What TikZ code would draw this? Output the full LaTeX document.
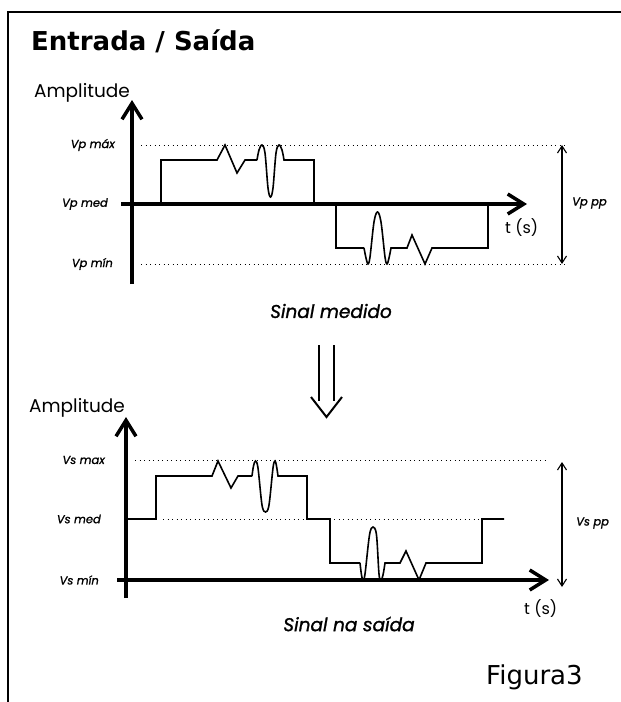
\documentclass[tikz,border=0pt]{standalone}
\usepackage{fontspec}
\setmainfont{DejaVu Sans}
\newfontfamily\geo{Poppins}
\newfontfamily\geob[FakeBold=1.2]{Poppins}
\usetikzlibrary{arrows.meta}
\tikzset{
  axis/.style={line width=3.5pt,-{Straight Barb[length=16pt,width=20pt]}},
  sig/.style={line width=1.6pt,line join=miter},
  dots/.style={line width=1pt,dash pattern=on 1pt off 3.5pt},
  span/.style={line width=1.1pt,{Straight Barb[length=7pt,width=9pt]}-{Straight Barb[length=7pt,width=9pt]}},
  lbl/.style={inner sep=0pt,font=\geob\itshape\fontsize{11.5}{12}\selectfont},
  captext/.style={inner sep=0pt,font=\geob\itshape\fontsize{18.5}{20}\selectfont},
  amp/.style={inner sep=0pt,anchor=west,font=\geo\fontsize{18.5}{20}\selectfont},
  tsec/.style={inner sep=0pt,anchor=west,font=\geo\fontsize{16}{18}\selectfont},
}
\begin{document}
\begin{tikzpicture}[x=1pt,y=-1pt]
\useasboundingbox (0,0) rectangle (621,702);
% frame
\draw[line width=2pt] (8,702) -- (8,12) -- (621,12);
\node[inner sep=0pt,anchor=base west,font=\bfseries\fontsize{26}{30}\selectfont] (title) at (31,50) {Entrada / Saída};

% ---------- top panel ----------
\coordinate (ya0) at (132,284); \coordinate (ya1) at (132,100);
\coordinate (xa0) at (121,204); \coordinate (xa1) at (527,204);
\coordinate (pmax0) at (141,145); \coordinate (pmax1) at (566,145);
\coordinate (pmin0) at (141,264); \coordinate (pmin1) at (566,264);
\coordinate (pp0) at (562,145); \coordinate (pp1) at (562,264);
\draw[dots] (pmax0) -- (pmax1);
\draw[dots] (pmin0) -- (pmin1);
\draw[span] (pp0) -- (pp1);
\draw[sig] (161,204) -- (161,160) -- (217,160) -- (225,145) -- (237,173) -- (245,160) -- (257,160)
  plot[smooth,tension=0.55] coordinates {(257,160) (259,150) (262,145) (265,153) (268,188) (270.5,197) (273,188) (276,153) (279,145) (282,150) (284,160)}
  -- (314,160) -- (314,204);
\draw[sig] (336,204) -- (336,248) -- (364,248)
  plot[smooth,tension=0.55] coordinates {(364,248) (366,258) (368,264) (370,257) (374,222) (377.5,212) (381,222) (385,257) (387,264) (389,258) (391,248)}
  -- (407,248) -- (412,235) -- (425,264) -- (432,248) -- (488,248) -- (488,204);
\draw[axis] (ya0) -- (ya1);
\draw[axis] (xa0) -- (xa1);
\node[amp] (amp1) at (34,93) {Amplitude};
\node[lbl,anchor=east] (vpmax) at (115,145) {Vp máx};
\node[lbl,anchor=east] (vpmed) at (108,204) {Vp med};
\node[lbl,anchor=east] (vpmin) at (113,264) {Vp mín};
\node[lbl,anchor=west] (vppp) at (572,203) {Vp pp};
\node[tsec] (t1) at (505,228) {t (s)};
\node[captext] (c1) at (331,311) {Sinal medido};

% ---------- double arrow ----------
\draw[line width=2pt] (319,345) -- (319,401);
\draw[line width=2pt] (334,345) -- (334,401);
\draw[line width=2pt,line join=miter] (311,397) -- (326.5,417) -- (342,397);

% ---------- bottom panel ----------
\coordinate (yb0) at (126,598); \coordinate (yb1) at (126,417);
\coordinate (xb0) at (117,580); \coordinate (xb1) at (549,580);
\coordinate (smax0) at (135,460); \coordinate (smax1) at (549,460);
\coordinate (smed0) at (163,519); \coordinate (smed1) at (482,519);
\coordinate (sp0) at (562,462); \coordinate (sp1) at (562,587);
\draw[dots] (smax0) -- (smax1);
\draw[dots] (smed0) -- (smed1);
\draw[span] (sp0) -- (sp1);
\draw[sig] (126,519) -- (156,519) -- (156,476) -- (212,476) -- (218,461) -- (231,488) -- (238,476) -- (252,476)
  plot[smooth,tension=0.55] coordinates {(252,476) (253.5,466) (255.5,461) (258,468) (262,505) (265.5,512) (269,505) (273,468) (275,461) (276.5,466) (278,476)}
  -- (307,476) -- (307,519) -- (330,519) -- (330,563) -- (360,563)
  plot[smooth,tension=0.55] coordinates {(360,563) (361.5,575) (363,580) (365,574) (369.5,535) (373,527) (376.5,535) (379,574) (381,580) (383,575) (385,563)}
  -- (400,563) -- (406,551) -- (419,580) -- (426,563) -- (482,563) -- (482,519) -- (504,519);
\draw[axis] (yb0) -- (yb1);
\draw[axis] (xb0) -- (xb1);
\node[amp] (amp2) at (29,408) {Amplitude};
\node[lbl,anchor=east] (vsmax) at (105,460) {Vs max};
\node[lbl,anchor=east] (vsmed) at (101,519) {Vs med};
\node[lbl,anchor=east] (vsmin) at (99,580) {Vs mín};
\node[lbl,anchor=west] (vspp) at (576,523) {Vs pp};
\node[tsec] (t2) at (524,609) {t (s)};
\node[captext] (c2) at (349,624) {Sinal na saída};
\node[inner sep=0pt,anchor=base west,font=\fontsize{26}{30}\selectfont] (fig) at (486,684) {Figura3};
\end{tikzpicture}
\end{document}
